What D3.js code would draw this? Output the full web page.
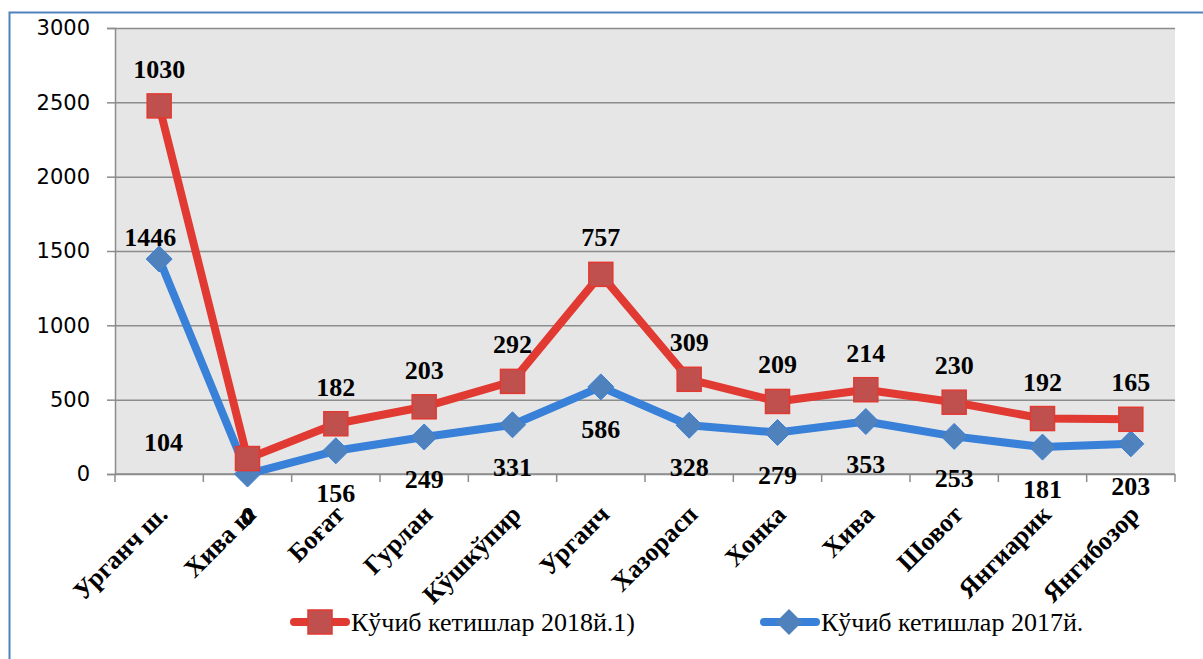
<!DOCTYPE html>
<html>
<head>
<meta charset="utf-8">
<script src="https://cdn.jsdelivr.net/npm/d3@7"></script>
<style>
  body { margin: 0; background: #fff; }
  svg { display: block; }
</style>
</head>
<body>
<div id="chart"></div>
<script>
// Data
var districts = ["Урганч ш.", "Хива ш", "Боғат", "Гурлан", "Кўшкўпир", "Урганч",
  "Хазорасп", "Хонка", "Хива", "Шовот", "Янгиарик", "Янгибозор"];
var left2017 = [1446, 0, 156, 249, 331, 586, 328, 279, 353, 253, 181, 203];
var left2018 = [1030, 104, 182, 203, 292, 757, 309, 209, 214, 230, 192, 165];
var yTicks = [0, 500, 1000, 1500, 2000, 2500, 3000];
var seriesNames = ["Кўчиб кетишлар 2018й.1)", "Кўчиб кетишлар 2017й."];

// SVG setup
var svgWidth = 1203;
var svgHeight = 659;
var margin = { top: 28, right: 28, bottom: 185, left: 115 };
var width = svgWidth - margin.left - margin.right;
var height = svgHeight - margin.top - margin.bottom;

var svg = d3.select("#chart").append("svg")
  .attr("width", svgWidth)
  .attr("height", svgHeight);

// outer frame (right and bottom edges fall outside the picture)
svg.append("rect")
  .attr("x", 9.5).attr("y", 12.5)
  .attr("width", 1210).attr("height", 670)
  .attr("fill", "none")
  .attr("stroke", "#4f81bd")
  .attr("stroke-width", 2);

var chartGroup = svg.append("g")
  .attr("transform", `translate(${margin.left}, ${margin.top})`);

// Scales
var xScale = d3.scaleBand().domain(districts).range([0, width]).padding(0);
var yScale = d3.scaleLinear().domain([0, 3000]).range([height, 0]);
var cx = d => xScale(d) + xScale.bandwidth() / 2;

// stacked line: 2018 sits on top of 2017
var rows = districts.map((d, i) => ({ name: d, y2017: left2017[i], y2018: left2018[i] }));
var stack = d3.stack().keys(["y2017", "y2018"])(rows);
var blueLayer = stack[0];
var redLayer = stack[1];

// plot background
chartGroup.append("rect")
  .attr("width", width).attr("height", height)
  .attr("fill", "#e6e6e6");

// gridlines
chartGroup.append("g")
  .call(d3.axisLeft(yScale).tickValues(yTicks).tickSize(-width).tickFormat(""))
  .call(g => g.select(".domain").remove())
  .call(g => g.selectAll("line").attr("stroke", "#8c8c8c").attr("stroke-width", 1.5));

// y axis
var yAxis = chartGroup.append("g")
  .call(d3.axisLeft(yScale).tickValues(yTicks).tickFormat(d3.format("d")).tickSize(8).tickPadding(17));
yAxis.select(".domain").attr("stroke", "#8c8c8c").attr("stroke-width", 1.5);
yAxis.selectAll("line").attr("stroke", "#8c8c8c").attr("stroke-width", 1.5);
yAxis.selectAll("text")
  .attr("font-family", "DejaVu Sans, sans-serif")
  .attr("font-size", 21)
  .attr("fill", "#000");

// x axis: ticks at band boundaries
var xAxis = chartGroup.append("g").attr("transform", `translate(0, ${height})`);
xAxis.append("line")
  .attr("x1", 0).attr("x2", width)
  .attr("stroke", "#8c8c8c").attr("stroke-width", 1.5);
xAxis.selectAll(".tick")
  .data(districts.concat([null]))
  .enter().append("line")
  .attr("x1", (d, i) => i < districts.length ? xScale(d) : width)
  .attr("x2", (d, i) => i < districts.length ? xScale(d) : width)
  .attr("y1", 0).attr("y2", 8)
  .attr("stroke", "#8c8c8c").attr("stroke-width", 1.5);

xAxis.selectAll(".xlabel")
  .data(districts)
  .enter().append("text")
  .attr("class", "xlabel")
  .attr("transform", d => `translate(${cx(d) + 10}, 42) rotate(-45)`)
  .attr("text-anchor", "end")
  .attr("font-family", "Liberation Serif, Times New Roman, serif")
  .attr("font-weight", "bold")
  .attr("font-size", 26)
  .text(d => d);

// lines
var line = d3.line()
  .x(d => cx(d.data.name))
  .y(d => yScale(d[1]));

chartGroup.append("path")
  .datum(blueLayer)
  .attr("d", line)
  .attr("fill", "none")
  .attr("stroke", "#3880d8")
  .attr("stroke-width", 8)
  .attr("stroke-linejoin", "round");

chartGroup.append("path")
  .datum(redLayer)
  .attr("d", line)
  .attr("fill", "none")
  .attr("stroke", "#e03a33")
  .attr("stroke-width", 8)
  .attr("stroke-linejoin", "round");

// markers
var diamond = "M0,-13L13,0L0,13L-13,0Z";
chartGroup.selectAll(".blueMark")
  .data(blueLayer)
  .enter().append("path")
  .attr("d", diamond)
  .attr("transform", d => `translate(${cx(d.data.name)}, ${yScale(d[1])})`)
  .attr("fill", "#4f81bd")
  .attr("stroke", "#3880d8")
  .attr("stroke-width", 1);

chartGroup.selectAll(".redMark")
  .data(redLayer)
  .enter().append("rect")
  .attr("x", d => cx(d.data.name) - 12)
  .attr("y", d => yScale(d[1]) - 12)
  .attr("width", 24).attr("height", 24)
  .attr("fill", "#c0504d")
  .attr("stroke", "#e03a33")
  .attr("stroke-width", 1.5);

// data labels
function labelStyle(sel) {
  sel.attr("text-anchor", "middle")
    .attr("font-family", "Liberation Serif, Times New Roman, serif")
    .attr("font-weight", "bold")
    .attr("font-size", 26)
    .attr("fill", "#000");
}

chartGroup.selectAll(".blueLabel")
  .data(blueLayer)
  .enter().append("text")
  .attr("x", (d, i) => cx(d.data.name) - (i === 0 ? 9 : 0))
  .attr("y", (d, i) => yScale(d[1]) + (i === 0 ? -13 : 51))
  .call(labelStyle)
  .text(d => d.data.y2017);

chartGroup.selectAll(".redLabel")
  .data(redLayer)
  .enter().append("text")
  .attr("x", (d, i) => cx(d.data.name) - (i === 1 ? 84 : 0))
  .attr("y", (d, i) => yScale(d[1]) + (i === 1 ? -8 : -28))
  .call(labelStyle)
  .text(d => d.data.y2018);

// legend
var legend = svg.append("g").attr("transform", "translate(0, 622)");
var legendItems = [
  { name: seriesNames[0], x: 290, color: "#e03a33", marker: "square" },
  { name: seriesNames[1], x: 760, color: "#3880d8", marker: "diamond" }
];
legendItems.forEach(function(item) {
  var g = legend.append("g").attr("transform", `translate(${item.x}, 0)`);
  g.append("line")
    .attr("x1", 4).attr("x2", 56)
    .attr("stroke", item.color)
    .attr("stroke-width", 8)
    .attr("stroke-linecap", "round");
  if (item.marker === "square") {
    g.append("rect")
      .attr("x", 18).attr("y", -12).attr("width", 24).attr("height", 24)
      .attr("fill", "#c0504d").attr("stroke", item.color).attr("stroke-width", 1.5);
  } else {
    g.append("path")
      .attr("d", diamond)
      .attr("transform", "translate(29, 0)")
      .attr("fill", "#4f81bd");
  }
  g.append("text")
    .attr("x", 61).attr("y", 9)
    .attr("font-family", "Liberation Serif, Times New Roman, serif")
    .attr("font-size", 26)
    .attr("fill", "#000")
    .text(item.name);
});
</script>
</body>
</html>
